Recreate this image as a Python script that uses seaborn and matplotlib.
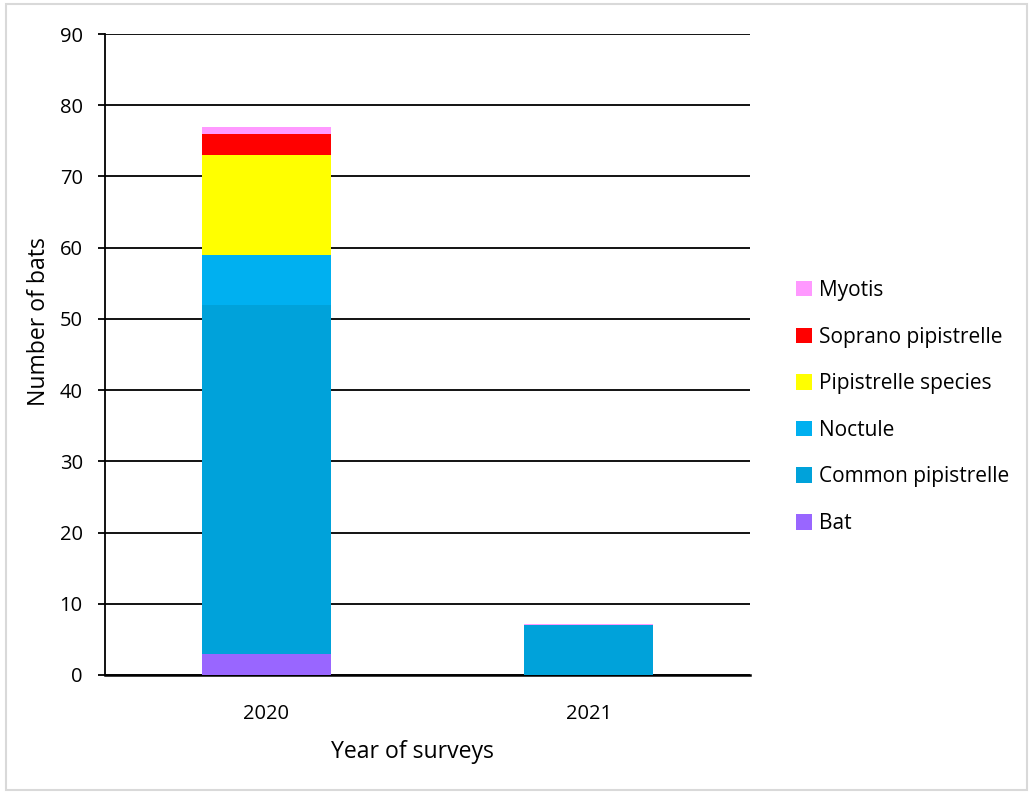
import matplotlib
matplotlib.use("Agg")
import matplotlib.pyplot as plt
import seaborn as sns
import pandas as pd
import numpy as np
from matplotlib.patches import Rectangle, Patch

years = ["2020", "2021"]
species = ["Bat", "Common pipistrelle", "Noctule", "Pipistrelle species",
           "Soprano pipistrelle", "Myotis"]
bat = [3, 0]
common_pipistrelle = [49, 7]
noctule = [7, 0]
pipistrelle_species = [14, 0]
soprano_pipistrelle = [3, 0]
myotis = [1, 0.15]
colors = ["#9966FF", "#00A2DA", "#00B0F0", "#FFFF00", "#FF0000", "#FF99FF"]

series = [bat, common_pipistrelle, noctule, pipistrelle_species,
          soprano_pipistrelle, myotis]

sns.set_theme(style="white")
plt.rcParams['font.family'] = ['Open Sans', 'DejaVu Sans']

fig = plt.figure(figsize=(10.33, 7.94), dpi=100)
ax = fig.add_axes([105/1033, 119/794, 645/1033, 641/794])

cum = np.cumsum(np.array(series, dtype=float), axis=0)
for i in range(len(species) - 1, -1, -1):
    df = pd.DataFrame({"year": years, "value": cum[i]})
    sns.barplot(data=df, x="year", y="value", color=colors[i], width=0.4,
                saturation=1, ax=ax, zorder=3, linewidth=0)

ax.set_xlim(-0.5, 1.5)
ax.set_ylim(0, 90)
ax.set_yticks(range(0, 91, 10))
ax.yaxis.grid(True, color="black", linewidth=1.3, zorder=0)
ax.set_axisbelow(True)
for s in ["top", "right"]:
    ax.spines[s].set_visible(False)
ax.spines["left"].set_color("black")
ax.spines["left"].set_linewidth(1.3)
ax.spines["bottom"].set_color("black")
ax.spines["bottom"].set_linewidth(1.8)
ax.tick_params(axis="y", left=True, length=5, width=1.3, color="black",
               labelsize=14.5, pad=11, labelcolor="black")
ax.tick_params(axis="x", bottom=False, labelsize=14.5, pad=15, labelcolor="black")
ax.set_xlabel("")
ax.set_ylabel("")
fig.text(412/1033, 1 - 752/794, "Year of surveys", fontsize=16.6,
         color="black", ha="center", va="center")
fig.text(39.5/1033, 1 - 322/794, "Number of bats", fontsize=16.6,
         color="black", ha="center", va="center", rotation=90)

handles = [Patch(facecolor=colors[i], edgecolor="none", label=species[i])
           for i in range(len(species) - 1, -1, -1)]
leg = fig.legend(handles=handles, loc="center left",
                 bbox_to_anchor=(796/1033, 1 - 407/794), frameon=False,
                 fontsize=15, handlelength=0.77, handleheight=0.77,
                 handletextpad=0.34, labelspacing=1.23, borderaxespad=0,
                 borderpad=0)
for t in leg.get_texts():
    t.set_color("black")

fig.patches.append(Rectangle((6/1033, 4/794), 1021/1033, 786/794,
                             transform=fig.transFigure, fill=False,
                             edgecolor="#d9d9d9", linewidth=1.5))

fig.savefig("out.png", dpi=100, facecolor="white")
